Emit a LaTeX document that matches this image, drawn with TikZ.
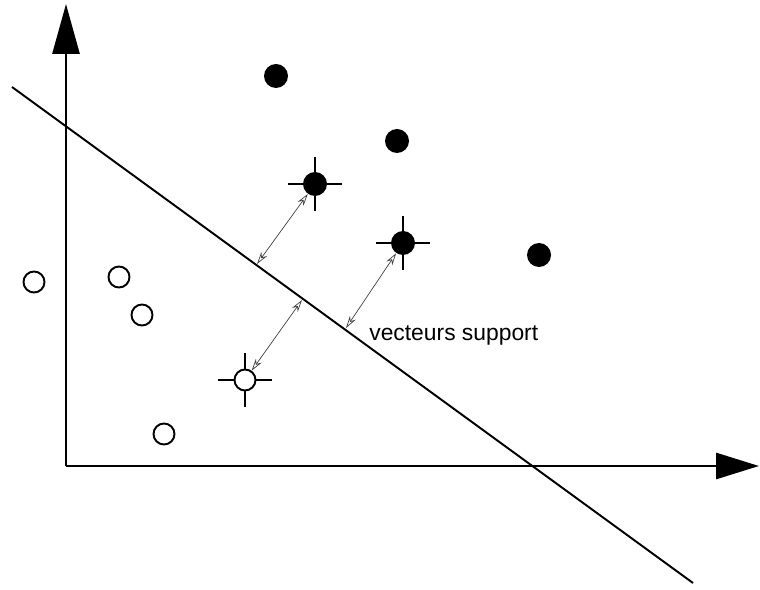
\documentclass[tikz,border=0pt]{standalone}
\usepackage{fontspec}
\setmainfont{Liberation Sans}
\usetikzlibrary{arrows.meta}
\tikzset{plein/.style={circle,fill=black,inner sep=0pt,minimum size=0.48cm},
	vide/.style={circle,draw=black,line width=1.1pt,fill=white,inner sep=0pt,minimum size=0.42cm},
	marge/.style={draw=black!75,line width=0.4pt,{Stealth[open,length=7pt,width=4pt]}-{Stealth[open,length=7pt,width=4pt]}}}

\begin{document}
\begin{tikzpicture}[x=0.02cm,y=-0.02cm]
	\useasboundingbox (0,0) rectangle (760,590);
	% axes
	\coordinate (o) at (66,466);
	\coordinate (xmax) at (759,466);
	\coordinate (ymax) at (66,4);
	\draw[line width=1.6pt,-{Triangle[length=0.86cm,width=0.52cm]}] (o)--(xmax);
	\draw[line width=1.6pt,-{Triangle[length=1.0cm,width=0.54cm]}] (o)--(ymax);
	% hyperplan
	\coordinate (h1) at (12,87);
	\coordinate (h2) at (693,583);
	\draw[line width=1.1pt] (h1)--(h2);
	% vecteurs support : croix
	\foreach \p in {(315,184),(403,243),(245,380)}{
		\draw[line width=0.6pt] \p ++(-27,0)--++(54,0);
		\draw[line width=0.6pt] \p ++(0,-27)--++(0,54);
	}
	% classe 1
	\node[plein] (p1) at (276,76) {};
	\node[plein] (p2) at (397,141) {};
	\node[plein] (p3) at (315,184) {};
	\node[plein] (p4) at (403,243) {};
	\node[plein] (p5) at (539,255) {};
	% classe 2
	\node[vide] (v1) at (34,282) {};
	\node[vide] (v2) at (119,277) {};
	\node[vide] (v3) at (142,315) {};
	\node[vide] (v4) at (245,380) {};
	\node[vide] (v5) at (164,434) {};
	% marges
	\coordinate (m1) at (257,264);
	\coordinate (m2) at (346,328);
	\coordinate (m3) at (302,300);
	\draw[marge] (p3)--(m1);
	\draw[marge] (p4)--(m2);
	\draw[marge] (v4)--(m3);
	\node[anchor=west,font=\fontsize{13}{15}\selectfont,inner sep=0pt] (vs) at (369,335) {vecteurs support};
\end{tikzpicture}
\end{document}
